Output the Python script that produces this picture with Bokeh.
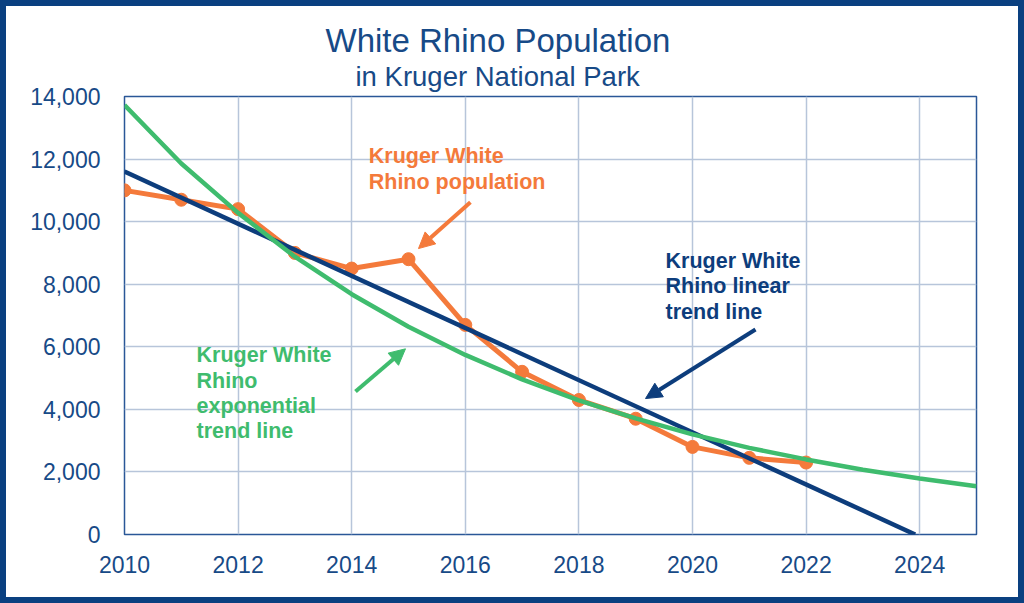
from bokeh.plotting import figure
from bokeh.models import Range1d, FixedTicker, NumeralTickFormatter, Label, Arrow, NormalHead, Title
from bokeh.embed import file_html
from bokeh.resources import INLINE

# ---- data ----
years = [2010, 2011, 2012, 2013, 2014, 2015, 2016, 2017, 2018, 2019, 2020, 2021, 2022]
population = [11000, 10700, 10400, 9000, 8500, 8800, 6700, 5200, 4300, 3700, 2800, 2450, 2300]

linear_x = [2010, 2023.92]
linear_y = [11600, 0]

exp_years = [2010, 2011, 2012, 2013, 2014, 2015, 2016, 2017, 2018, 2019, 2020,
             2021, 2022, 2023, 2024, 2025]
exp_values = [13730, 11860, 10280, 8880, 7680, 6640, 5740, 4960, 4290, 3710, 3200,
              2770, 2400, 2070, 1790, 1540]

x_ticks = [2010, 2012, 2014, 2016, 2018, 2020, 2022, 2024]
y_ticks = [0, 2000, 4000, 6000, 8000, 10000, 12000, 14000]

title_text = "White Rhino Population"
subtitle_text = "in Kruger National Park"

NAVY = "#0d3d7c"
TEXT = "#174a87"
ORANGE = "#f47a3b"
GREEN = "#3fbc6e"
GRID = "#b7c5da"
FRAME = "#0a4080"
FONT = "Liberation Sans"

p = figure(width=1024, height=603, output_backend="svg", toolbar_location=None,
           x_range=Range1d(2010, 2025), y_range=Range1d(0, 14000),
           min_border_left=118, min_border_right=54, min_border_top=90, min_border_bottom=75,
           title=None)
p.styles = {"border": "6px solid " + FRAME}
p.background_fill_color = "white"
p.border_fill_color = "white"
p.outline_line_color = "#2a5797"
p.outline_line_width = 1.5

for ax in (p.xaxis[0], p.yaxis[0]):
    ax.axis_line_color = None
    ax.major_tick_line_color = None
    ax.minor_tick_line_color = None
    ax.major_label_text_font = FONT
    ax.major_label_text_font_size = "23px"
    ax.major_label_text_color = TEXT
p.xaxis.ticker = FixedTicker(ticks=x_ticks)
p.yaxis.ticker = FixedTicker(ticks=y_ticks)
p.yaxis.formatter = NumeralTickFormatter(format="0,0")
p.xaxis.major_label_standoff = 15
p.yaxis.major_label_standoff = 18

p.xgrid.ticker = FixedTicker(ticks=x_ticks)
p.ygrid.ticker = FixedTicker(ticks=y_ticks)
for g in (p.xgrid[0], p.ygrid[0]):
    g.grid_line_color = GRID
    g.grid_line_width = 1.5

# series
p.line(years, population, line_color=ORANGE, line_width=5)
p.scatter(years, population, size=13, fill_color=ORANGE, line_color=ORANGE)
p.line(linear_x, linear_y, line_color=NAVY, line_width=4.5)
p.line(exp_years, exp_values, line_color=GREEN, line_width=4.5)

# titles (subtitle closest to the plot frame)
p.add_layout(Title(text=subtitle_text, align="left", offset=231, text_font=FONT,
                   text_font_size="27.5px", text_font_style="normal", text_color=TEXT,
                   standoff=9), "above")
p.add_layout(Title(text=title_text, align="left", offset=201, text_font=FONT,
                   text_font_size="33px", text_font_style="normal", text_color=TEXT,
                   standoff=-8), "above")

def note(x, y, txt, color):
    p.add_layout(Label(x=x, y=y, text=txt, text_align="left", text_baseline="alphabetic",
                       text_font=FONT, text_font_size="21.5px", text_font_style="bold",
                       text_color=color))

# orange annotation
note(2014.30, 12113, "Kruger White", ORANGE)
note(2014.30, 11259, "Rhino population", ORANGE)
p.add_layout(Arrow(x_start=2016.09, y_start=10620, x_end=2015.176, y_end=9140,
                   line_color=ORANGE, line_width=4,
                   end=NormalHead(size=16, fill_color=ORANGE, line_color=ORANGE)))

# navy annotation
note(2019.525, 8757, "Kruger White", NAVY)
note(2019.525, 7935, "Rhino linear", NAVY)
note(2019.525, 7127, "trend line", NAVY)
p.add_layout(Arrow(x_start=2021.109, y_start=6552, x_end=2019.173, y_end=4346,
                   line_color=NAVY, line_width=4,
                   end=NormalHead(size=16, fill_color=NAVY, line_color=NAVY)))

# green annotation
note(2011.268, 5743, "Kruger White", GREEN)
note(2011.268, 4922, "Rhino", GREEN)
note(2011.268, 4123, "exponential", GREEN)
note(2011.268, 3324, "trend line", GREEN)
p.add_layout(Arrow(x_start=2014.067, y_start=4570, x_end=2014.947, y_end=5935,
                   line_color=GREEN, line_width=4,
                   end=NormalHead(size=16, fill_color=GREEN, line_color=GREEN)))

open("out.html", "w").write(file_html(p, INLINE))
